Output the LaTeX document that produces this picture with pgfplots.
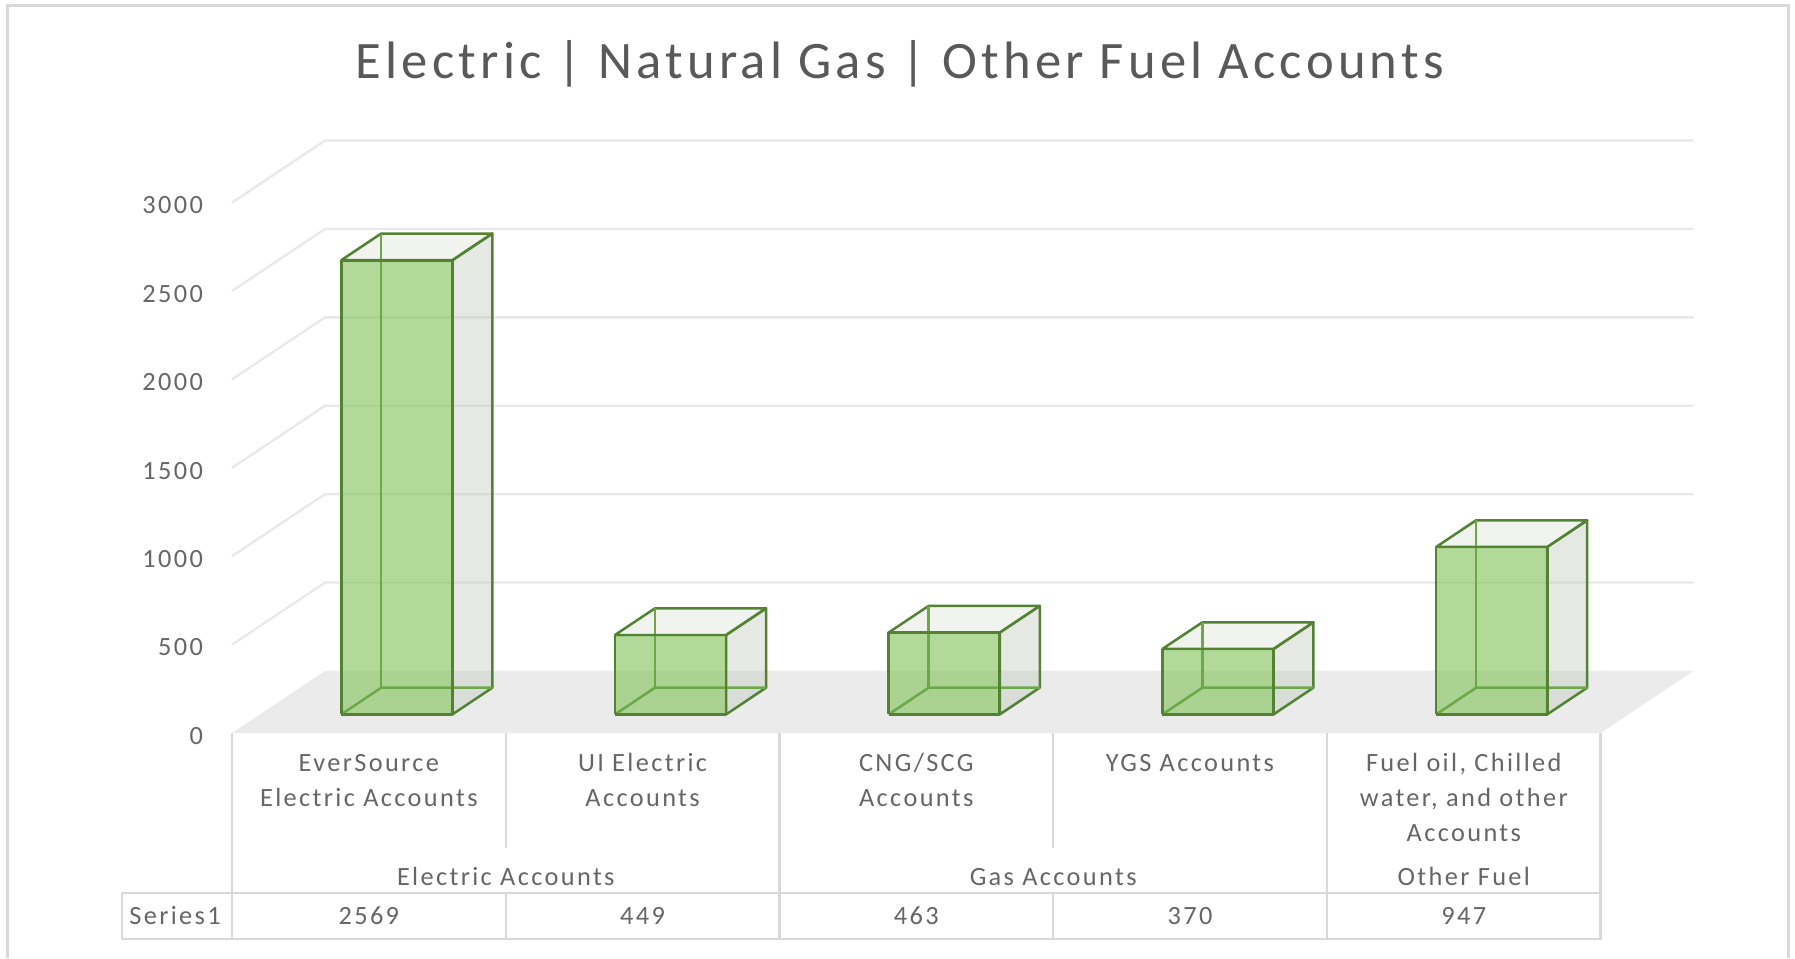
\documentclass[border=0pt]{standalone}
\usepackage{fontspec}
\setmainfont{Carlito}
\newfontfamily\lblfont[LetterSpace=9]{Carlito}
\newfontfamily\ttlfont[LetterSpace=8]{Carlito}
\usepackage{pgfplots}
\pgfplotsset{compat=1.18}
\definecolor{ttlc}{HTML}{595959}
\definecolor{lblc}{HTML}{666666}
\definecolor{gridc}{HTML}{E8E8E8}
\definecolor{floorc}{HTML}{EBEBEB}
\definecolor{linec}{HTML}{D9D9D9}
\definecolor{edgec}{HTML}{548235}
\definecolor{hidc}{HTML}{6CA84A}
\definecolor{frontc}{RGB}{138,197,98}
\definecolor{sidec}{RGB}{192,200,185}
\definecolor{topc}{RGB}{217,225,212}

% 3-D bar: #1 = category centre, #2 = value
\newcommand\barthreed[2]{%
  \pgfmathsetmacro\xL{#1-0.203+0.1019}%
  \pgfmathsetmacro\xR{#1+0.203+0.1019}%
  \pgfmathsetmacro\yB{105.3}%
  \pgfmathsetmacro\yT{105.3+#2}%
  \pgfmathsetmacro\xLb{\xL+0.146}%
  \pgfmathsetmacro\xRb{\xR+0.146}%
  \pgfmathsetmacro\yBb{\yB+150.9}%
  \pgfmathsetmacro\yTb{\yT+150.9}%
  \edef\doit{%
    \noexpand\addplot[fill=sidec, fill opacity=0.4, draw=edgec, line width=1.1pt, line join=round]
      coordinates {(\xR,\yB) (\xRb,\yBb) (\xRb,\yTb) (\xR,\yT) (\xR,\yB)};
    \noexpand\addplot[fill=topc, fill opacity=0.4, draw=edgec, line width=1.1pt, line join=round]
      coordinates {(\xL,\yT) (\xR,\yT) (\xRb,\yTb) (\xLb,\yTb) (\xL,\yT)};
    \noexpand\addplot[fill=frontc, fill opacity=0.65, draw=none]
      coordinates {(\xL,\yB) (\xR,\yB) (\xR,\yT) (\xL,\yT) (\xL,\yB)};
    \noexpand\addplot[draw=hidc, line width=1.1pt, line join=round]
      coordinates {(\xL,\yB) (\xLb,\yBb) (\xRb,\yBb)};
    \noexpand\addplot[draw=hidc, line width=1.1pt]
      coordinates {(\xLb,\yBb) (\xLb,\yTb)};
    \noexpand\addplot[draw=edgec, line width=1.2pt, line join=round]
      coordinates {(\xL,\yB) (\xR,\yB) (\xR,\yT) (\xL,\yT) (\xL,\yB)};
  }%
  \doit
}

\begin{document}
\begin{tikzpicture}[x=0.5pt,y=-0.5pt,
  lbl/.style={font=\lblfont\fontsize{11.5}{13}\selectfont, text=lblc, inner sep=0pt, anchor=base}]
\useasboundingbox (0,0) rectangle (1568,837);

% chart border
\draw[linec, line width=1.3pt] (6.5,837) -- (6.5,4.4) -- (1562.2,4.4) -- (1562.2,837);

% title
\node[font=\ttlfont\fontsize{23}{27}\selectfont, text=ttlc, inner sep=0pt, anchor=base]
  at (786,68.4) {Electric | Natural Gas | Other Fuel Accounts};

\begin{axis}[
  at={(101.35pt,-320.15pt)}, anchor=south west,
  x=119.55pt, y=0.07722pt,
  xmin=0, xmax=5, ymin=0, ymax=3000,
  enlargelimits=false, clip=false,
  axis x line=none,
  axis y line*=left,
  y axis line style={draw=none},
  ytick={0,500,1000,1500,2000,2500,3000},
  ytick style={draw=none}, major tick length=0pt,
  scaled y ticks=false,
  /pgf/number format/1000 sep={},
  /pgf/number format/assume math mode=true,
  yticklabel style={font=\lblfont\fontsize{11.5}{13}\selectfont, text=lblc,
    inner sep=0pt, anchor=east, xshift=-12.5pt, yshift=-1.2pt},
]
% floor
\addplot[fill=floorc, draw=none] coordinates {(0,0) (5,0) (5.3396,350.9) (0.3396,350.9) (0,0)};
% gridlines (side wall + back wall)
\addplot[gridc, line width=1pt] coordinates {(0,500) (0.3396,850.9) (5.3396,850.9)};
\addplot[gridc, line width=1pt] coordinates {(0,1000) (0.3396,1350.9) (5.3396,1350.9)};
\addplot[gridc, line width=1pt] coordinates {(0,1500) (0.3396,1850.9) (5.3396,1850.9)};
\addplot[gridc, line width=1pt] coordinates {(0,2000) (0.3396,2350.9) (5.3396,2350.9)};
\addplot[gridc, line width=1pt] coordinates {(0,2500) (0.3396,2850.9) (5.3396,2850.9)};
\addplot[gridc, line width=1pt] coordinates {(0,3000) (0.3396,3350.9) (5.3396,3350.9)};
% bars (Series1)
\barthreed{0.5}{2569}
\barthreed{1.5}{449}
\barthreed{2.5}{463}
\barthreed{3.5}{370}
\barthreed{4.5}{947}
\end{axis}

% category divisions and data table
\draw[linec, line width=1pt] (202.7,640.3) -- (202.7,820.5);
\draw[linec, line width=1pt] (441.8,640.3) -- (441.8,741);
\draw[linec, line width=1pt] (680.9,640.3) -- (680.9,820.5);
\draw[linec, line width=1pt] (920.0,640.3) -- (920.0,741);
\draw[linec, line width=1pt] (1159.1,640.3) -- (1159.1,820.5);
\draw[linec, line width=1pt] (1398.2,640.3) -- (1398.2,820.5);
\draw[linec, line width=1pt] (106.3,780.3) rectangle (1398.2,820.5);
\draw[linec, line width=1pt] (441.8,780.3) -- (441.8,820.5);
\draw[linec, line width=1pt] (920.0,780.3) -- (920.0,820.5);

% category labels
\node[lbl] at (322.2,673.5) {EverSource};
\node[lbl] at (322.2,704.1) {Electric Accounts};
\node[lbl] at (561.3,673.5) {UI Electric};
\node[lbl] at (561.3,704.1) {Accounts};
\node[lbl] at (800.4,673.5) {CNG/SCG};
\node[lbl] at (800.4,704.1) {Accounts};
\node[lbl] at (1039.5,673.5) {YGS Accounts};
\node[lbl] at (1278.7,673.5) {Fuel oil, Chilled};
\node[lbl] at (1278.7,704.1) {water, and other};
\node[lbl] at (1278.7,735.2) {Accounts};
% group labels
\node[lbl] at (441.8,773.3) {Electric Accounts};
\node[lbl] at (920.0,773.3) {Gas Accounts};
\node[lbl] at (1278.7,773.3) {Other Fuel};
% data table row
\node[lbl] at (152.9,807.5) {Series1};
\node[lbl] at (322.2,807.5) {2569};
\node[lbl] at (561.3,807.5) {449};
\node[lbl] at (800.4,807.5) {463};
\node[lbl] at (1039.5,807.5) {370};
\node[lbl] at (1278.7,807.5) {947};
\end{tikzpicture}
\end{document}
